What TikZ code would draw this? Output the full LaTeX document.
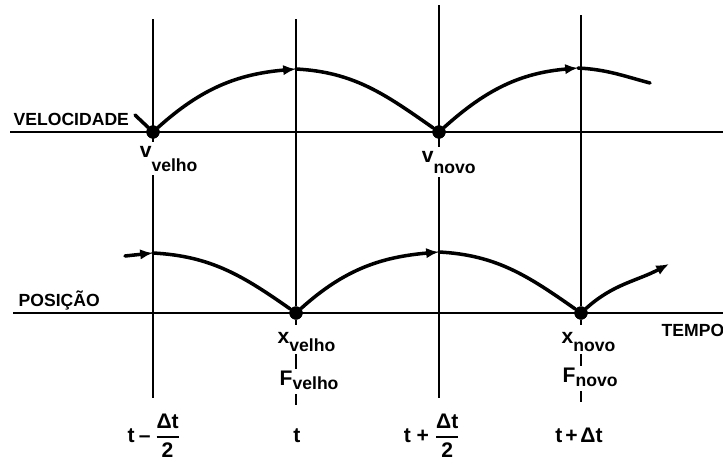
\documentclass[tikz,border=0pt]{standalone}
\usepackage{amsmath}
\usepackage{fontspec}
\setmainfont{Liberation Sans}
\usepackage{tikz}
\usetikzlibrary{arrows.meta, positioning}

\newcommand{\lowsub}[2][0.8ex]{\raisebox{-#1}{\fontsize{12.5}{15}\selectfont #2}}
\newcommand{\halfstep}{\genfrac{}{}{1.2pt}{0}{\mbox{Δt}}{\mbox{2}}}

\begin{document}
\begin{tikzpicture}[x=0.025cm, y=0.025cm,
      every node/.style={font=\bfseries\fontsize{12.5}{15}\selectfont, inner sep=1pt},
      big/.style={font=\bfseries\fontsize{15}{18}\selectfont},
      axisline/.style={line width=2.1pt},
      guide/.style={line width=1.4pt},
      curve/.style={line width=2.5pt, line cap=round},
      arr/.style={-{Latex[length=3.2mm, width=2.6mm]}},
      dot/.style={circle, fill=black, inner sep=0pt, minimum size=3.3mm},
      lbl/.style={fill=white, inner sep=2.5pt}]
  \useasboundingbox (0,0) rectangle (723,463);

  % time lines
  \coordinate (topA) at (153,444);
  \coordinate (botA) at (153,65);
  \coordinate (topB) at (296,444);
  \coordinate (topC) at (439,458);
  \coordinate (botC) at (439,65);
  \coordinate (topD) at (581,448);

  % axes
  \coordinate (velL) at (10,331);
  \coordinate (velR) at (723,331);
  \coordinate (posL) at (13,150);
  \coordinate (posR) at (723,150);

  % dots
  \node[dot] (vold) at (153,331) {};
  \node[dot] (vnew) at (439,331) {};
  \node[dot] (xold) at (296,150) {};
  \node[dot] (xnew) at (581,150) {};

  \draw[guide] (topA) -- (botA);
  \draw[guide] (topC) -- (botC);
  \draw[guide] (topB) -- (xold) -- ++(0,-12);
  \draw[guide] (topD) -- (xnew) -- ++(0,-12);
  \draw[axisline] (velL) -- (velR);
  \draw[axisline] (posL) -- (posR);

  % velocity
  \coordinate (vin) at (135,348);
  \coordinate (vpk1) at (296,394);
  \coordinate (vpk2) at (578,395);
  \coordinate (vend) at (650,380);
  \draw[curve] (vin) -- (vold);
  \draw[curve, arr] (vold) to[out=42, in=185] (vpk1);
  \draw[curve] (vpk1) to[out=-3, in=145] (vnew);
  \draw[curve, arr] (vnew) to[out=42, in=185] (vpk2);
  \draw[curve] (vpk2) to[out=-3, in=165] (vend);

  % position
  \coordinate (xin) at (125,207);
  \coordinate (xpk1) at (153,210);
  \coordinate (xpk2) at (439,211);
  \coordinate (xend) at (669,199);
  \draw[curve, arr] (xin) -- (xpk1);
  \draw[curve] (xpk1) to[out=-3, in=145] (xold);
  \draw[curve, arr] (xold) to[out=42, in=185] (xpk2);
  \draw[curve] (xpk2) to[out=-3, in=145] (xnew);
  \draw[curve, arr] (xnew) to[out=42, in=208] (xend);

  \node[dot] at (vold) {};
  \node[dot] at (vnew) {};
  \node[dot] at (xold) {};
  \node[dot] at (xnew) {};

  % labels
  \node[anchor=west] (vel) at (12,344) {VELOCIDADE};
  \node[anchor=west] (pos) at (17,163) {POSIÇÃO};
  \node[anchor=west] (tempo) at (660,133) {TEMPO};

  \node[big, lbl, anchor=base west] (vvlab) at (136,306) {v\lowsub[1.3ex]{velho}};
  \node[big, lbl, anchor=base west] (vnlab) at (418,301) {v\lowsub[1ex]{novo}};
  \node[big, anchor=base west] (xvlab) at (276,120) {x\lowsub{velho}};
  \node[big, anchor=base west] (Fvlab) at (278,78) {F\lowsub[0.4ex]{velho}};
  \node[big, anchor=base west] (xnlab) at (560,120) {x\lowsub{novo}};
  \node[big, anchor=base west] (Fnlab) at (561,81) {F\lowsub[0.4ex]{novo}};

  \draw[guide] (xvlab.south -| xold) -- (Fvlab.north -| xold);
  \draw[guide] (Fvlab.south -| xold) ++(0,-3) -- ++(0,-11);
  \draw[guide] (xnlab.south -| xnew) -- (Fnlab.north -| xnew);
  \draw[guide] (Fnlab.south -| xnew) ++(0,-3) -- ++(0,-11);

  \node[big, anchor=base] (tminus) at (154,21) {t\kern3pt--\kern3pt$\halfstep$};
  \node[big, anchor=base] (tnow) at (297,21) {t};
  \node[big, anchor=base] (tplus) at (432,21) {t\kern4pt+\kern4pt$\halfstep$};
  \node[big, anchor=base] (tnext) at (579,21) {t\kern2pt+\kern2pt Δt};
\end{tikzpicture}
\end{document}
